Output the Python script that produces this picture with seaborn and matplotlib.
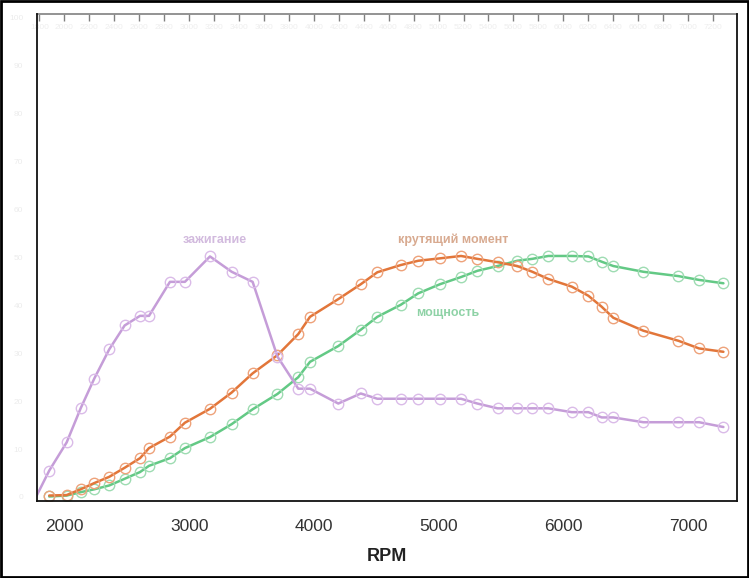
import matplotlib
matplotlib.use("Agg")
import matplotlib.pyplot as plt
import seaborn as sns
import pandas as pd
import numpy as np
from matplotlib.ticker import MultipleLocator
from matplotlib.patches import Rectangle

# ---- data ----
rpm = [1878, 2018, 2130, 2239, 2359, 2483, 2606, 2678, 2846, 2966,
       3167, 3341, 3509, 3708, 3875, 3969, 4196, 4376, 4509, 4696,
       4837, 5011, 5180, 5311, 5473, 5631, 5752, 5880, 6068, 6201,
       6308, 6401, 6642, 6923, 7089, 7284]

ignition = [5.5, 11.4, 18.5, 24.7, 30.8, 35.8, 37.8, 37.8, 44.9, 44.9,
            50.2, 47.0, 44.9, 29.3, 22.6, 22.6, 19.5, 21.6, 20.5, 20.5,
            20.5, 20.5, 20.5, 19.5, 18.5, 18.5, 18.5, 18.5, 17.7, 17.7,
            16.6, 16.6, 15.6, 15.6, 15.6, 14.6]
ignition_start_rpm = 1720
ignition_start_val = -2.7

torque = [0.3, 0.4, 1.6, 2.9, 4.2, 6.1, 8.1, 10.2, 12.6, 15.5,
          18.4, 21.8, 25.8, 29.6, 34.0, 37.6, 41.3, 44.4, 46.9, 48.4,
          49.3, 49.8, 50.3, 49.7, 49.0, 48.2, 47.0, 45.5, 43.9, 42.0,
          39.7, 37.4, 34.7, 32.6, 31.0, 30.3]

power = [0.1, 0.3, 1.0, 1.6, 2.4, 3.8, 5.2, 6.5, 8.1, 10.2,
         12.5, 15.2, 18.3, 21.5, 25.0, 28.2, 31.5, 34.9, 37.6, 40.1,
         42.5, 44.4, 45.9, 47.2, 48.2, 49.3, 49.7, 50.3, 50.3, 50.2,
         49.1, 48.2, 47.0, 46.1, 45.3, 44.6]

x_ticks = [2000, 3000, 4000, 5000, 6000, 7000]
x_label = "RPM"
lbl_ign = "зажигание"
lbl_torque = "крутящий момент"
lbl_power = "мощность"

# ---- style ----
sns.set_theme(style="white")
plt.rcParams['font.family'] = ['Liberation Sans', 'DejaVu Sans']

c_ign, c_ign_m = "#c59dd8", "#dabbe8"
c_tq, c_tq_m = "#e2763a", "#eea27a"
c_pw, c_pw_m = "#63c985", "#9edcb2"

fig = plt.figure(figsize=(7.49, 5.78), dpi=100)
ax = fig.add_axes([37/749, 1 - 501/578, 700/749, 487/578])

ign_df = pd.DataFrame({"rpm": [ignition_start_rpm] + rpm,
                       "v": [ignition_start_val] + ignition})
tq_df = pd.DataFrame({"rpm": rpm, "v": torque})
pw_df = pd.DataFrame({"rpm": rpm, "v": power})

mk = dict(marker="o", markersize=7.5, markerfacecolor="none", markeredgewidth=1.0)

sns.lineplot(data=pw_df, x="rpm", y="v", ax=ax, color=c_pw, lw=1.8,
             markeredgecolor=c_pw_m, **mk)
sns.lineplot(data=tq_df, x="rpm", y="v", ax=ax, color=c_tq, lw=1.8,
             markeredgecolor=c_tq_m, **mk)
sns.lineplot(data=ign_df, x="rpm", y="v", ax=ax, color=c_ign, lw=1.8,
             markeredgecolor=c_ign_m, **mk)

ax.set_xlim(1780, 7393)
ax.set_ylim(-0.84, 100.8)

ax.set_xticks(x_ticks)
ax.xaxis.set_minor_locator(MultipleLocator(200))
ax.yaxis.set_major_locator(MultipleLocator(10))
ax.yaxis.set_minor_locator(MultipleLocator(2))

ax.tick_params(axis="x", which="major", direction="inout", length=10, width=1,
               color="#222222", labelsize=12.5, labelcolor="#333333", pad=8)
ax.tick_params(axis="x", which="minor", direction="out", length=4, width=1,
               color="#222222")
ax.tick_params(axis="y", which="major", direction="out", length=6, width=1,
               color="#222222", labelsize=6, labelcolor="#ececec", pad=4)
ax.tick_params(axis="y", which="minor", direction="out", length=4, width=1,
               color="#333333")

ax.set_xlabel(x_label, fontsize=13, fontweight="bold", color="#222222", labelpad=10)
ax.set_ylabel("")

for s in ["left", "bottom", "right"]:
    ax.spines[s].set_color("#111111")
    ax.spines[s].set_linewidth(1.3)
ax.spines["top"].set_visible(False)

# top secondary axis with faint labels
top = ax.secondary_xaxis("top")
top.set_xticks(list(range(1800, 7201, 200)))
top.tick_params(axis="x", direction="in", length=5, width=1, color="#808080",
                labelsize=6, labelcolor="#eeeeee", pad=-12)
top.spines["top"].set_color("#8a8a8a")
top.spines["top"].set_linewidth(1.3)

# series labels
ax.text(3207, 53.7, lbl_ign, color="#d2bade", fontsize=9, fontweight="bold",
        ha="center", va="center")
ax.text(5116, 53.7, lbl_torque, color="#d8aa90", fontsize=9, fontweight="bold",
        ha="center", va="center")
ax.text(5076, 38.3, lbl_power, color="#8ed2a6", fontsize=9, fontweight="bold",
        ha="center", va="center")

# outer frame
fig.patches.append(Rectangle((0.001, 0.001), 0.997, 0.997, transform=fig.transFigure,
                             fill=False, edgecolor="black", linewidth=2))

fig.savefig("out.png", dpi=100)
